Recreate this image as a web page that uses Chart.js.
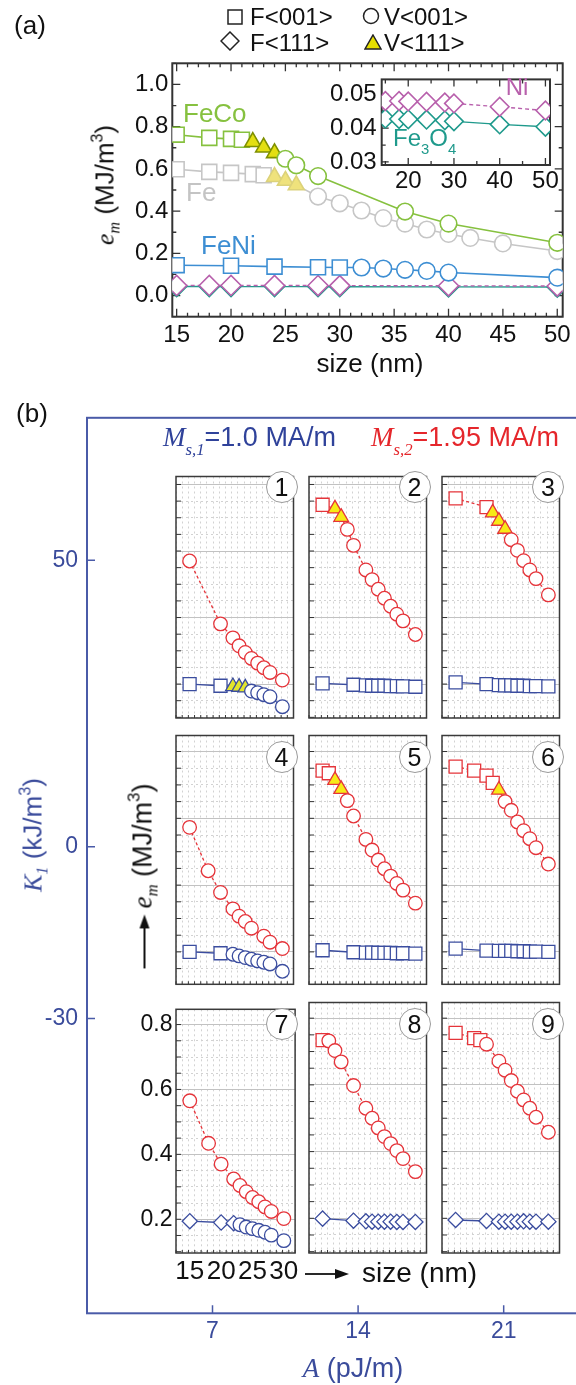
<!DOCTYPE html>
<html><head><meta charset="utf-8"><title>e_m vs size</title>
<script src="https://cdn.jsdelivr.net/npm/chart.js@4.4.1/dist/chart.umd.min.js"></script>
<style>
html,body{margin:0;padding:0;overflow:hidden;background:#fff;}
body{width:576px;height:1385px;position:relative;font-family:"Liberation Sans",Arial,Helvetica,sans-serif;color:#111;}
canvas{position:absolute;}
.t{position:absolute;white-space:nowrap;line-height:1;}
.t sub{font-size:0.62em;vertical-align:-0.35em;line-height:0;}
.t sup{font-size:0.62em;vertical-align:0.7em;line-height:0;}
.t sub.deep{vertical-align:-0.55em;}
.ser{font-family:"Liberation Serif","Times New Roman",serif;font-style:italic;}
.num{position:absolute;width:30px;height:30px;border:1px solid #9a9a9a;border-radius:50%;background:#fff;
 display:flex;align-items:center;justify-content:center;font-size:25px;transform:translate(-50%,-50%);line-height:1;}
</style></head>
<body>
<script>
// ================= DATA =================
// ---- (a) main plot ----
const aSizeFeCo = [15,18,20,21,22,23,24,25,26,28,36,40,50];
const aEmFeCo   = [0.762,0.747,0.742,0.738,0.728,0.702,0.675,0.648,0.617,0.566,0.398,0.341,0.250];
const aPhFeCo   = ['F','F','F','F','T','T','T','V','V','V','V','V','V'];

const aSizeFe = [15,18,20,22,23,24,25,26,28,30,32,34,36,38,40,42,45,50];
const aEmFe   = [0.598,0.586,0.581,0.575,0.570,0.562,0.544,0.523,0.469,0.437,0.403,0.367,0.341,0.313,0.292,0.273,0.247,0.211];
const aPhFe   = ['F','F','F','F','F','T','T','T','V','V','V','V','V','V','V','V','V','V'];

const aSizeFeNi = [15,20,24,28,30,32,34,36,38,40,50];
const aEmFeNi   = [0.144,0.141,0.137,0.134,0.133,0.133,0.128,0.122,0.117,0.109,0.085];
const aPhFeNi   = ['F','F','F','F','F','V','V','V','V','V','V'];

const aSizeOx  = [15,18,20,24,28,30,40,50];
const aEmNi    = [0.0480,0.0480,0.0479,0.0478,0.0476,0.0473,0.0463,0.0452];
const aEmFe3O4 = [0.0428,0.0427,0.0426,0.0425,0.0423,0.0420,0.0411,0.0404];
const aPhOx    = ['D','D','D','D','D','D','D','D'];

// ---- (b) outer axes ----
const k1Ticks = [50, 0, -30];      // K1 (kJ/m^3)
const aExTicks = [7, 14, 21];      // A (pJ/m)
const sizeLabelTicks = [15, 20, 25, 30];

// ---- (b) nine panels: red = Ms,2 , blue = Ms,1 ----
const p1RedSize=[15,20,22,23,24,25,26,27,28,30];
const p1RedEm  =[0.570,0.381,0.339,0.315,0.295,0.277,0.263,0.249,0.235,0.212];
const p1RedPh  =['V','V','V','V','V','V','V','V','V','V'];
const p1BluSize=[15,20,22,23,24,25,26,27,28,30];
const p1BluEm  =[0.200,0.195,0.193,0.191,0.189,0.179,0.174,0.168,0.162,0.132];
const p1BluPh  =['F','F','T','T','T','V','V','V','V','V'];

const p2RedSize=[15,17,18,19,20,22,23,24,25,26,27,28,30];
const p2RedEm  =[0.739,0.727,0.702,0.665,0.617,0.543,0.514,0.485,0.458,0.434,0.410,0.390,0.349];
const p2RedPh  =['F','T','T','V','V','V','V','V','V','V','V','V','V'];
const p2BluSize=[15,20,22,23,24,25,26,27,28,30];
const p2BluEm  =[0.202,0.198,0.196,0.195,0.195,0.195,0.194,0.194,0.193,0.192];
const p2BluPh  =['F','F','F','F','F','F','F','F','F','F'];

const p3RedSize=[15,20,21,22,23,24,25,26,27,28,30];
const p3RedEm  =[0.758,0.732,0.715,0.690,0.666,0.634,0.602,0.571,0.543,0.517,0.468];
const p3RedPh  =['F','F','T','T','T','V','V','V','V','V','V'];
const p3BluSize=[15,20,22,23,24,25,26,27,28,30];
const p3BluEm  =[0.205,0.200,0.197,0.196,0.196,0.195,0.195,0.194,0.194,0.193];
const p3BluPh  =['F','F','F','F','F','F','F','F','F','F'];

const p4RedSize=[15,18,20,22,23,24,25,27,28,30];
const p4RedEm  =[0.573,0.443,0.378,0.329,0.307,0.291,0.271,0.247,0.229,0.210];
const p4RedPh  =['V','V','V','V','V','V','V','V','V','V'];
const p4BluSize=[15,20,22,23,24,25,26,27,28,30];
const p4BluEm  =[0.200,0.196,0.193,0.188,0.183,0.178,0.173,0.169,0.164,0.142];
const p4BluPh  =['F','F','V','V','V','V','V','V','V','V'];

const p5RedSize=[15,16,17,18,19,20,22,23,24,25,26,27,28,30];
const p5RedEm  =[0.743,0.735,0.714,0.687,0.653,0.607,0.537,0.505,0.475,0.449,0.427,0.405,0.385,0.346];
const p5RedPh  =['F','F','T','T','V','V','V','V','V','V','V','V','V','V'];
const p5BluSize=[15,20,22,23,24,25,26,27,28,30];
const p5BluEm  =[0.205,0.199,0.198,0.198,0.197,0.197,0.197,0.196,0.196,0.195];
const p5BluPh  =['F','F','F','F','F','F','F','F','F','F'];

const p6RedSize=[15,18,20,21,22,23,24,25,26,27,28,30];
const p6RedEm  =[0.755,0.743,0.728,0.706,0.685,0.650,0.624,0.589,0.563,0.539,0.512,0.463];
const p6RedPh  =['F','F','F','F','T','V','V','V','V','V','V','V'];
const p6BluSize=[15,20,22,23,24,25,26,27,28,30];
const p6BluEm  =[0.210,0.204,0.203,0.203,0.203,0.202,0.202,0.201,0.201,0.200];
const p6BluPh  =['F','F','F','F','F','F','F','F','F','F'];

const p7RedSize=[15,18,20,22,23,24,25,26,27,28,30];
const p7RedEm  =[0.565,0.434,0.370,0.324,0.304,0.285,0.267,0.254,0.238,0.224,0.202];
const p7RedPh  =['V','V','V','V','V','V','V','V','V','V','V'];
const p7BluSize=[15,20,22,23,24,25,26,27,28,30];
const p7BluEm  =[0.194,0.190,0.188,0.183,0.176,0.171,0.166,0.160,0.151,0.134];
const p7BluPh  =['D','D','D','V','V','V','V','V','V','V'];

const p8RedSize=[15,16,17,18,20,22,23,24,25,26,27,28,30];
const p8RedEm  =[0.734,0.732,0.703,0.669,0.598,0.530,0.500,0.471,0.445,0.424,0.403,0.379,0.340];
const p8RedPh  =['F','V','V','V','V','V','V','V','V','V','V','V','V'];
const p8BluSize=[15,20,22,23,24,25,26,27,28,30];
const p8BluEm  =[0.199,0.193,0.191,0.190,0.190,0.190,0.190,0.189,0.189,0.189];
const p8BluPh  =['D','D','D','D','D','D','D','D','D','D'];

const p9RedSize=[15,18,19,20,22,23,24,25,26,27,28,30];
const p9RedEm  =[0.756,0.740,0.734,0.722,0.671,0.644,0.613,0.581,0.555,0.530,0.503,0.458];
const p9RedPh  =['F','F','F','V','V','V','V','V','V','V','V','V'];
const p9BluSize=[15,20,22,23,24,25,26,27,28,30];
const p9BluEm  =[0.195,0.192,0.190,0.190,0.190,0.190,0.191,0.190,0.190,0.190];
const p9BluPh  =['D','D','D','D','D','D','D','D','D','D'];

// ================= RENDERING =================
const FONT = "'Liberation Sans', Arial, Helvetica, sans-serif";
Chart.defaults.font.family = FONT;
Chart.defaults.color = '#111';
const STYLE = {F:'rect', D:'rectRot', T:'triangle', V:'circle'};

function mkCanvas(x, y, w, h){
  const c = document.createElement('canvas');
  c.width = w; c.height = h;
  c.style.left = x+'px'; c.style.top = y+'px';
  c.style.width = w+'px'; c.style.height = h+'px';
  document.body.appendChild(c);
  return c;
}
function txt(html, x, y, o){
  o = o || {};
  const d = document.createElement('div');
  d.className = 't';
  d.innerHTML = html;
  d.style.left = x+'px'; d.style.top = y+'px';
  d.style.fontSize = (o.size||24)+'px';
  d.style.color = o.color || '#111';
  let tr = o.anchor==='l' ? 'translate(0,-50%)' : 'translate(-50%,-50%)';
  if (o.rot) tr += ' rotate(-90deg)';
  d.style.transform = tr;
  document.body.appendChild(d);
  return d;
}
function decor(cfg){
  return {
    id:'decor',
    beforeDraw(chart){
      if (!cfg.bg) return;
      const a = chart.chartArea, ctx = chart.ctx;
      ctx.save(); ctx.fillStyle = cfg.bg;
      ctx.fillRect(a.left, a.top, a.right-a.left, a.bottom-a.top);
      ctx.restore();
    },
    beforeDatasetsDraw(chart){
      const {ctx, chartArea:a} = chart;
      ctx.save();
      (cfg.ticks||[]).forEach(t => {
        const sc = chart.scales[t.axis];
        ctx.strokeStyle = t.color; ctx.lineWidth = t.width || 1;
        ctx.beginPath();
        sc.ticks.forEach(tk => {
          const len = t.isMajor(tk.value) ? t.major : t.minor;
          if (!len) return;
          const p = sc.getPixelForValue(tk.value);
          if (sc.isHorizontal()){
            if (t.sides.indexOf('b')>=0){ ctx.moveTo(p, a.bottom); ctx.lineTo(p, a.bottom-len); }
            if (t.sides.indexOf('t')>=0){ ctx.moveTo(p, a.top); ctx.lineTo(p, a.top+len); }
          } else {
            if (t.sides.indexOf('l')>=0){ ctx.moveTo(a.left, p); ctx.lineTo(a.left+len, p); }
            if (t.sides.indexOf('r')>=0){ ctx.moveTo(a.right, p); ctx.lineTo(a.right-len, p); }
          }
        });
        ctx.stroke();
      });
      if (cfg.frame){
        ctx.strokeStyle = cfg.frame.color; ctx.lineWidth = cfg.frame.width;
        ctx.strokeRect(a.left, a.top, a.right-a.left, a.bottom-a.top);
      }
      ctx.restore();
    }
  };
}
const near = (v, step) => Math.abs(v/step - Math.round(v/step)) < 1e-6;

function series(xs, ys, ph, color, o){
  return {
    data: xs.map((x,i)=>({x:x, y:ys[i]})),
    borderColor: color, borderWidth: o.lw, borderDash: o.dash || [],
    pointStyle: ph.map(p=>STYLE[p]),
    pointRadius: ph.map(p=>o.r[p]),
    pointHoverRadius: ph.map(p=>o.r[p]),
    pointBackgroundColor: ph.map(p=> p==='T' ? o.triFill : '#ffffff'),
    pointBorderColor: ph.map(p=> p==='T' ? o.triEdge : color),
    pointBorderWidth: o.pw,
    tension: 0, fill: false,
    clip: o.clip
  };
}
const baseOpts = {responsive:false, animation:false, devicePixelRatio:1, events:[],
  plugins:{legend:{display:false}, tooltip:{enabled:false}}};

// ---------- (a) main ----------
const MAIN_R = {F:10.6, T:9.2, V:8.3, D:10};
const C_FECO='#86c13f', C_FE='#c6c6c6', C_FENI='#3d8ed3', C_NI='#b860ac', C_OX='#1f9a8c';
new Chart(mkCanvas(0,0,576,395), {
  type:'line',
  data:{datasets:[
    series(aSizeFeCo, aEmFeCo, aPhFeCo, C_FECO, {lw:1.6,pw:1.6,r:MAIN_R,triFill:'#e3df12',triEdge:'#7f9000',clip:0}),
    series(aSizeFe, aEmFe, aPhFe, C_FE, {lw:1.6,pw:1.6,r:MAIN_R,triFill:'#efe27c',triEdge:'#dcd27a',clip:0}),
    series(aSizeFeNi, aEmFeNi, aPhFeNi, C_FENI, {lw:1.6,pw:1.6,r:MAIN_R,clip:0}),
    series(aSizeOx, aEmNi, aPhOx, C_NI, {lw:1.4,pw:1.6,r:MAIN_R,dash:[4,3],clip:0}),
    series(aSizeOx, aEmFe3O4, aPhOx, C_OX, {lw:1.4,pw:1.6,r:MAIN_R,clip:0})
  ]},
  options:Object.assign({}, baseOpts, {
    layout:{padding:{left:0, top:63.3, right:13.3, bottom:0}},
    scales:{
      x:{type:'linear', min:14.6, max:50.5, afterFit:s=>{s.height=78.3;},
         grid:{display:false, drawTicks:false}, border:{display:false},
         ticks:{stepSize:1, includeBounds:false, autoSkip:false, maxRotation:0, padding:4, color:'#111', font:{size:24},
                callback:v=> near(v,5) ? String(Math.round(v)) : ''}},
      y:{type:'linear', min:-0.1, max:1.1, afterFit:s=>{s.width=172.3;},
         grid:{display:false, drawTicks:false}, border:{display:false},
         ticks:{stepSize:0.1, includeBounds:false, autoSkip:false, padding:4, color:'#111', font:{size:24},
                callback:v=> (near(v,0.2) && v>-0.01 && v<1.01) ? v.toFixed(1) : ''}}
    }
  }),
  plugins:[decor({frame:{color:'#333',width:2}, ticks:[
    {axis:'x', sides:'bt', major:8, minor:4, color:'#333', width:1.3, isMajor:v=>near(v,5)},
    {axis:'y', sides:'lr', major:8, minor:4, color:'#333', width:1.3, isMajor:v=>near(v,0.2)}
  ]})]
});

// ---------- (a) inset ----------
const INSET_R = {D:9.3};
new Chart(mkCanvas(300,60,276,140), {
  type:'line',
  data:{datasets:[
    series(aSizeOx, aEmNi, aPhOx, C_NI, {lw:1.4,pw:1.6,r:INSET_R,dash:[4,3],clip:0}),
    series(aSizeOx, aEmFe3O4, aPhOx, C_OX, {lw:1.4,pw:1.6,r:INSET_R,clip:0})
  ]},
  options:Object.assign({}, baseOpts, {
    layout:{padding:{left:0, top:8.3, right:26, bottom:0}},
    scales:{
      x:{type:'linear', min:14.2, max:51, afterFit:s=>{s.height=35;},
         grid:{display:false, drawTicks:false}, border:{display:false},
         ticks:{stepSize:5, includeBounds:false, autoSkip:false, maxRotation:0, padding:2, color:'#111', font:{size:24},
                callback:v=> near(v,10) ? String(Math.round(v)) : ''}},
      y:{type:'linear', min:0.0291, max:0.0544, afterFit:s=>{s.width=81.7;},
         grid:{display:false, drawTicks:false}, border:{display:false},
         ticks:{stepSize:0.005, includeBounds:false, autoSkip:false, padding:5, color:'#111', font:{size:24},
                callback:v=> near(v,0.01) ? v.toFixed(2) : ''}}
    }
  }),
  plugins:[decor({bg:'#ffffff', frame:{color:'#333',width:2}, ticks:[
    {axis:'x', sides:'bt', major:7, minor:4, color:'#333', width:1.3, isMajor:v=>near(v,10)},
    {axis:'y', sides:'l', major:7, minor:4, color:'#333', width:1.3, isMajor:v=>near(v,0.01)}
  ]})]
});

// ---------- (b) outer axes ----------
const BLUE_AX = '#4a5ba8', BLUE_TX = '#3a4b9b';
new Chart(mkCanvas(0,395,600,990), {
  type:'line',
  data:{datasets:[]},
  options:Object.assign({}, baseOpts, {
    layout:{padding:{left:0, top:16, right:10, bottom:0}},
    scales:{
      x:{type:'linear', min:0.966, max:25.15, afterFit:s=>{s.height=71.7;},
         afterBuildTicks:s=>{ s.ticks = aExTicks.map(v=>({value:v})); },
         grid:{display:false, drawTicks:false}, border:{display:false},
         ticks:{autoSkip:false, maxRotation:0, padding:5, color:BLUE_TX, font:{size:23}}},
      y:{type:'linear', min:-81.5, max:74.9, afterFit:s=>{s.width=87;},
         afterBuildTicks:s=>{ s.ticks = k1Ticks.map(v=>({value:v})); },
         grid:{display:false, drawTicks:false}, border:{display:false},
         ticks:{autoSkip:false, padding:9, color:BLUE_TX, font:{size:23}}}
    }
  }),
  plugins:[decor({frame:{color:BLUE_AX,width:2}, ticks:[
    {axis:'x', sides:'b', major:8, minor:8, color:BLUE_AX, width:1.5, isMajor:()=>true},
    {axis:'y', sides:'l', major:8, minor:8, color:BLUE_AX, width:1.5, isMajor:()=>true}
  ]})]
});

// ---------- (b) panels ----------
const colLeft = [175.5, 308.5, 442];
const colW = 123.5;
const rowTop = [470, 729, 996];
const rowBot = [718, 984.3, 1253];
const rowMin = [0.098, 0.103, 0.096];
const rowMax = [0.824, 0.848, 0.847];
const numOff = [17, 28, 28];
const PANEL_R = {F:9.2, T:8.4, V:6.8, D:7.6};
const RED='#e5343a', NAVY='#3b4d9f';
const X_MIN = 12.8, X_MAX = 31.8;

const panelData = [
  [p1RedSize,p1RedEm,p1RedPh,p1BluSize,p1BluEm,p1BluPh],
  [p2RedSize,p2RedEm,p2RedPh,p2BluSize,p2BluEm,p2BluPh],
  [p3RedSize,p3RedEm,p3RedPh,p3BluSize,p3BluEm,p3BluPh],
  [p4RedSize,p4RedEm,p4RedPh,p4BluSize,p4BluEm,p4BluPh],
  [p5RedSize,p5RedEm,p5RedPh,p5BluSize,p5BluEm,p5BluPh],
  [p6RedSize,p6RedEm,p6RedPh,p6BluSize,p6BluEm,p6BluPh],
  [p7RedSize,p7RedEm,p7RedPh,p7BluSize,p7BluEm,p7BluPh],
  [p8RedSize,p8RedEm,p8RedPh,p8BluSize,p8BluEm,p8BluPh],
  [p9RedSize,p9RedEm,p9RedPh,p9BluSize,p9BluEm,p9BluPh]
];
const ML = 50, MT = 4, MR = 4, MB = 42;
panelData.forEach((pd, i) => {
  const r = Math.floor(i/3), c = i%3;
  const L = colLeft[c], T = rowTop[r], H = rowBot[r]-rowTop[r];
  const W = Math.round(colW + ML + MR), Hc = Math.round(H + MT + MB);
  const bottomH = Hc - MT - H;
  const showLabels = (i === 6);
  const xMajor = v => near(v,5), yMajor = v => near(v,0.2);
  const scales = {
    x:{type:'linear', position:'bottom', min:X_MIN, max:X_MAX, afterFit:s=>{s.height = showLabels ? 0 : bottomH;},
       grid:{display:true, drawTicks:false, lineWidth:1,
             color:ctx=> (ctx.tick && xMajor(ctx.tick.value)) ? '#c2c2c2' : '#d2d2d2'},
       border:{display:false, dash:ctx=> (ctx.tick && xMajor(ctx.tick.value)) ? [] : [2,3]},
       ticks:{display:false, stepSize:1, includeBounds:false, autoSkip:false, maxRotation:0}},
    y:{type:'linear', min:rowMin[r], max:rowMax[r], afterFit:s=>{s.width=ML;},
       grid:{display:true, drawTicks:false, lineWidth:1,
             color:ctx=> (ctx.tick && yMajor(ctx.tick.value)) ? '#c2c2c2' : '#d2d2d2'},
       border:{display:false, dash:ctx=> (ctx.tick && yMajor(ctx.tick.value)) ? [] : [2,3]},
       ticks:{display:showLabels, stepSize:0.05, includeBounds:false, autoSkip:false, padding:3.5,
              color:'#111', font:{size:23}, callback:v=> yMajor(v) ? v.toFixed(1) : ''}}
  };
  if (showLabels){
    scales.xl = {type:'linear', position:'bottom', min:X_MIN, max:X_MAX, afterFit:s=>{s.height = bottomH;},
       afterBuildTicks:s=>{ s.ticks = sizeLabelTicks.map(v=>({value:v})); },
       grid:{display:false, drawTicks:false}, border:{display:false},
       ticks:{display:true, autoSkip:false, maxRotation:0, minRotation:0, padding:3, color:'#111', font:{size:26}}};
  }
  new Chart(mkCanvas(L-ML, T-MT, W, Hc), {
    type:'line',
    data:{datasets:[
      series(pd[0], pd[1], pd[2], RED, {lw:1.3, pw:1.3, r:PANEL_R, dash:[3,2.5], triFill:'#f7ea16', triEdge:RED}),
      series(pd[3], pd[4], pd[5], NAVY, {lw:1.3, pw:1.3, r:PANEL_R, triFill:'#e2e52c', triEdge:NAVY})
    ]},
    options:Object.assign({}, baseOpts, {
      layout:{padding:{left:0, top:MT, right:W-ML-colW, bottom:0}},
      scales:scales
    }),
    plugins:[decor({frame:{color:'#3a3a3a',width:1.5}, ticks:[
      {axis:'x', sides:'b', major:6, minor:3, color:'#333', width:1, isMajor:xMajor},
      {axis:'y', sides:'l', major:5, minor:5, color:'#333', width:1, isMajor:yMajor}
    ]})]
  });
  const n = document.createElement('div');
  n.className = 'num'; n.textContent = String(i+1);
  n.style.left = (L + colW - 17.5) + 'px';
  n.style.top = (T + numOff[r]) + 'px';
  document.body.appendChild(n);
});

// ================= TEXT =================
// (a)
txt('(a)', 30, 25, {size:26});
const sq = '<svg width="16" height="16"><rect x="1" y="1" width="14" height="14" fill="#fff" stroke="#222" stroke-width="1.5"/></svg>';
const ci = '<svg width="18" height="18"><circle cx="9" cy="9" r="7.5" fill="#fff" stroke="#222" stroke-width="1.5"/></svg>';
const di = '<svg width="20" height="20"><polygon points="10,1 19,10 10,19 1,10" fill="#fff" stroke="#222" stroke-width="1.5"/></svg>';
const tr = '<svg width="18" height="16"><polygon points="9,1 17,15 1,15" fill="#e6df00" stroke="#222" stroke-width="1.5"/></svg>';
txt(sq, 235, 17); txt('F&lt;001&gt;', 250, 17, {anchor:'l', size:24});
txt(ci, 371, 17); txt('V&lt;001&gt;', 384, 17, {anchor:'l', size:24});
txt(di, 230, 43); txt('F&lt;111&gt;', 250, 43, {anchor:'l', size:24});
txt(tr, 373, 42); txt('V&lt;111&gt;', 384, 43, {anchor:'l', size:24});

txt('<span class="ser">e</span><sub class="ser">m</sub> (MJ/m<sup>3</sup>)', 105, 185, {size:26, rot:true});
txt('size (nm)', 370, 363, {size:26});
txt('FeCo', 183, 113, {anchor:'l', size:26, color:C_FECO});
txt('Fe', 186, 192, {anchor:'l', size:26, color:'#c4c4c4'});
txt('FeNi', 201, 245, {anchor:'l', size:26, color:C_FENI});
txt('Ni', 517, 87, {size:24, color:C_NI});
txt('Fe<sub class="deep">3</sub>O<sub class="deep">4</sub>', 393, 138, {anchor:'l', size:24, color:C_OX});

// (b)
txt('(b)', 32, 413, {size:26});
txt('<span class="ser">M</span><sub class="ser deep">s,1</sub>=1.0 MA/m', 163, 437, {anchor:'l', size:27, color:'#2f429a'});
txt('<span class="ser">M</span><sub class="ser deep">s,2</sub>=1.95 MA/m', 371, 437, {anchor:'l', size:27, color:'#e5262b'});
txt('<span class="ser">K</span><sub class="ser">1</sub> (kJ/m<sup>3</sup>)', 33, 835, {size:26, rot:true, color:BLUE_TX});
const arr = '<svg width="54" height="14" style="vertical-align:middle;margin-right:6px"><line x1="0" y1="7" x2="42" y2="7" stroke="#111" stroke-width="1.8"/><polygon points="40,2 54,7 40,12" fill="#111"/></svg>';
txt(arr + '<span class="ser">e</span><sub class="ser">m</sub> (MJ/m<sup>3</sup>)', 143, 876, {size:27, rot:true});
txt('<svg width="44" height="14"><line x1="0" y1="7" x2="32" y2="7" stroke="#111" stroke-width="1.8"/><polygon points="30,2 44,7 30,12" fill="#111"/></svg>', 305, 1273, {anchor:'l'});
txt('size (nm)', 362, 1273, {anchor:'l', size:28});
txt('<span class="ser">A</span> (pJ/m)', 353, 1368, {size:27, color:BLUE_TX});
</script>
</body></html>
